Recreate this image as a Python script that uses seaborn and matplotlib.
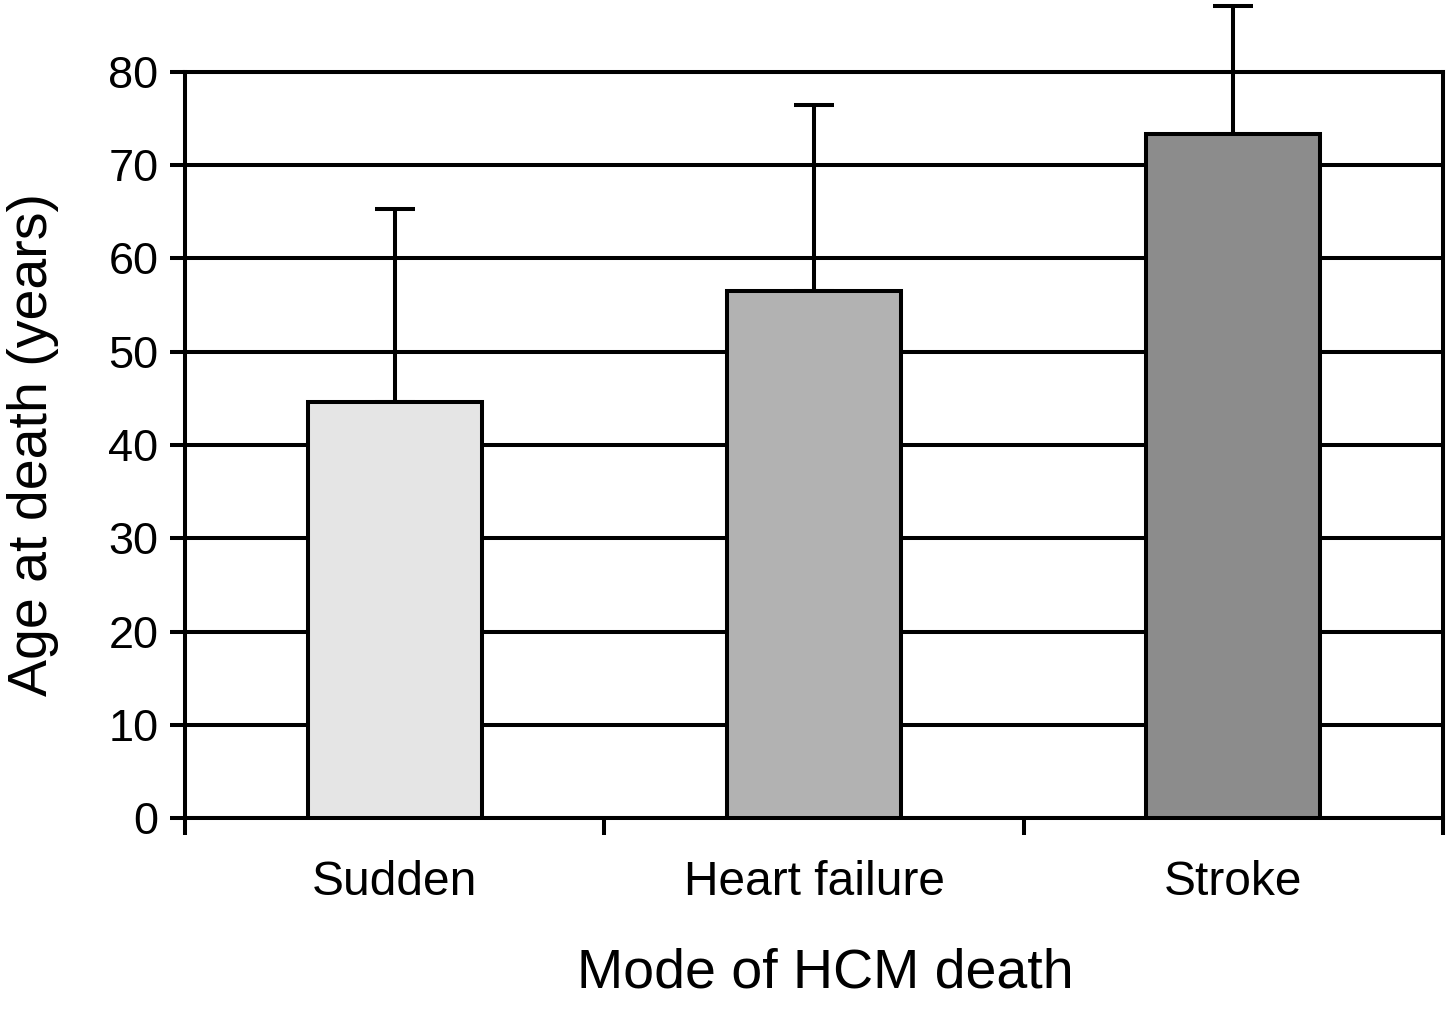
import matplotlib
matplotlib.use("Agg")
import matplotlib.pyplot as plt
import seaborn as sns
import pandas as pd
import numpy as np

# ---- data ----
modes = ["Sudden", "Heart failure", "Stroke"]
mean_age = [44.6, 56.5, 73.4]
sd_upper = [20.7, 20.0, 13.7]
bar_colors = ["#e5e5e5", "#b2b2b2", "#8c8c8c"]
y_ticks = [0, 10, 20, 30, 40, 50, 60, 70, 80]

sns.set_theme(style="white")
plt.rcParams["font.family"] = ["Liberation Sans", "DejaVu Sans"]

df = pd.DataFrame({"mode": modes, "age": mean_age})

fig = plt.figure(figsize=(14.51, 10.14), dpi=100)
ax = fig.add_axes([185 / 1451, 1 - 818 / 1014, 1258 / 1451, 746 / 1014])

LW = 2.9
sns.barplot(data=df, x="mode", y="age", hue="mode", palette=bar_colors,
            order=modes, hue_order=modes, legend=False, errorbar=None,
            width=0.415, edgecolor="black", linewidth=LW, ax=ax, zorder=3)

xpos = np.arange(len(modes))
ax.errorbar(xpos, mean_age, yerr=[np.zeros(len(modes)), sd_upper], fmt="none",
            ecolor="black", elinewidth=LW, capsize=14.5, capthick=LW,
            clip_on=False, zorder=2)

ax.set_ylim(0, 80)
ax.set_xlim(-0.5, 2.5)

# horizontal grid lines
ax.set_yticks(y_ticks)
ax.yaxis.grid(True, color="black", linewidth=LW)
ax.xaxis.grid(False)
ax.set_axisbelow(True)

for s in ["left", "bottom", "right", "top"]:
    ax.spines[s].set_visible(True)
    ax.spines[s].set_color("black")
    ax.spines[s].set_linewidth(LW)

# x tick marks at category boundaries, labels at centers
ax.set_xticks([-0.5, 0.5, 1.5, 2.5])
ax.set_xticklabels([])
ax.set_xticks(xpos, minor=True)
ax.set_xticklabels(modes, minor=True)
ax.tick_params(axis="x", which="major", direction="out", length=12, width=LW,
               color="black", bottom=True)
ax.tick_params(axis="x", which="minor", length=0, pad=30, labelsize=34.5,
               labelcolor="black", bottom=True)
ax.tick_params(axis="y", which="major", direction="out", length=11, width=LW,
               color="black", left=True, pad=8, labelsize=32.5, labelcolor="black")

ax.set_xlabel("Mode of HCM death", fontsize=40, color="black")
ax.xaxis.label.set_va("baseline")
ax.xaxis.set_label_coords((825 - 185) / 1258, (818 - 988) / 746)
ax.set_ylabel("Age at death (years)", fontsize=40, color="black")
ax.yaxis.label.set_va("center")
ax.yaxis.set_label_coords((33 - 185) / 1258, 0.5)

fig.savefig("out.png", dpi=100, facecolor="white")
